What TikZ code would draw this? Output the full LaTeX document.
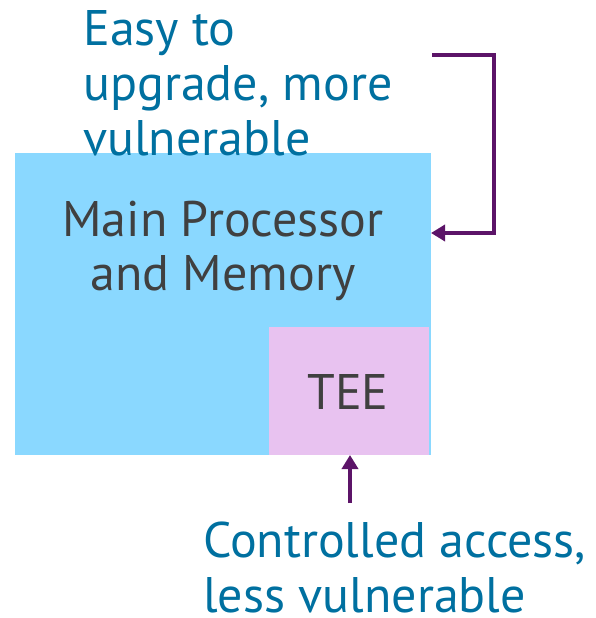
\documentclass[tikz,border=0pt]{standalone}
\usepackage{fontspec}
\setmainfont{PT Sans}
\usetikzlibrary{arrows.meta,positioning}
\definecolor{procblue}{RGB}{138,216,255}
\definecolor{teepink}{RGB}{232,194,240}
\definecolor{arrowpurple}{RGB}{92,20,104}
\definecolor{labelblue}{RGB}{0,112,160}
\definecolor{boxtext}{RGB}{64,64,64}
\tikzset{
  region/.style={draw=none, inner sep=0pt, outer sep=0pt, anchor=north west},
  label/.style={inner sep=0pt, anchor=base west, align=left, text=labelblue,
    font=\fontsize{50}{55}\selectfont},
  boxlabel/.style={inner sep=0pt, align=center, text=boxtext,
    font=\fontsize{50}{54}\selectfont},
  link/.style={draw=arrowpurple, line width=4pt,
    -{Triangle[length=14pt,width=16pt]}},
}
\begin{document}
\begin{tikzpicture}[x=1pt,y=-1pt]
  \useasboundingbox (0,0) rectangle (595,618);
  % host processor region and the secure enclave inside it
  \node[region, fill=procblue, minimum width=416pt, minimum height=302pt] (main) at (15,153) {};
  \node[region, fill=teepink, minimum width=160pt, minimum height=128pt] (tee) at (269,327) {};
  % multi-line nodes: the base anchor sits on the last line
  \node[boxlabel, anchor=base] (mainlbl) at (223,290) {Main Processor\\and Memory};
  \node[boxlabel, anchor=base] (teelbl) at (348,409) {TEE};
  % annotations
  \node[label] (easy) at (83,155) {Easy to\\upgrade, more\\vulnerable};
  \node[label] (ctrl) at (203,612) {Controlled access,\\less vulnerable};
  % connectors
  \coordinate (easyend) at (432,55);
  \coordinate (ctrlend) at (350,503);
  \draw[link] (easyend) -- ++(62,0) |- (main.east |- 0,233);
  \draw[link] (ctrlend) -- (tee.south -| ctrlend);
\end{tikzpicture}
\end{document}
